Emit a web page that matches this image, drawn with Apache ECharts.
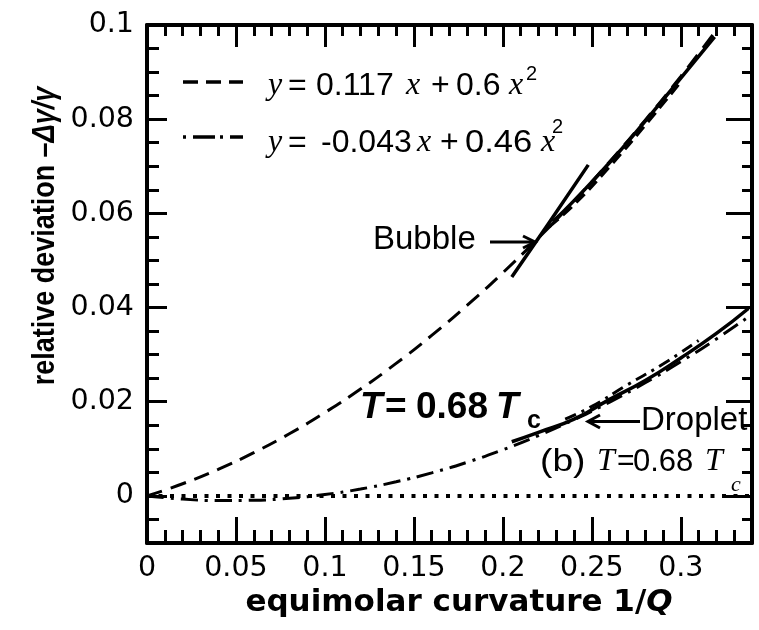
<!DOCTYPE html>
<html>
<head>
<meta charset="utf-8">
<script src="https://cdn.jsdelivr.net/npm/echarts@6/dist/echarts.min.js"></script>
<style>
  html, body { margin: 0; padding: 0; background: #ffffff; }
  #chart { width: 759px; height: 630px; }
</style>
</head>
<body>
<div id="chart"></div>
<script>
// Fitted curve y = 0.117 x + 0.6 x^2 (bubble)
const fitBubbleX = [0, 0.02, 0.04, 0.06, 0.08, 0.10, 0.12, 0.14, 0.16, 0.18, 0.20, 0.22, 0.24, 0.26, 0.28, 0.30, 0.318];
const fitBubbleY = [0, 0.00258, 0.00564, 0.00918, 0.0132, 0.0177, 0.02268, 0.02814, 0.03408, 0.0405, 0.0474, 0.05478, 0.06264, 0.07098, 0.0798, 0.0891, 0.0979];

// Fitted curve y = -0.043 x + 0.46 x^2 (droplet)
const fitDropletX = [0, 0.02, 0.04, 0.06, 0.08, 0.10, 0.12, 0.14, 0.16, 0.18, 0.20, 0.22, 0.24, 0.26, 0.28, 0.30, 0.32, 0.34];
const fitDropletY = [0, -0.00068, -0.00098, -0.00092, -0.0005, 0.0003, 0.00146, 0.003, 0.0049, 0.00716, 0.0098, 0.0128, 0.01618, 0.01992, 0.02402, 0.0285, 0.03334, 0.03856];

// Simulated bubble data
const bubbleSteepX = [0.205, 0.225, 0.248];
const bubbleSteepY = [0.0465, 0.0575, 0.0703];
const bubbleMainX = [0.228, 0.24, 0.26, 0.28, 0.30, 0.319];
const bubbleMainY = [0.0582, 0.0627, 0.0708, 0.0796, 0.0887, 0.0975];
const bubbleAltX = [0.226, 0.24, 0.26, 0.28, 0.30];
const bubbleAltY = [0.0572, 0.0619, 0.0700, 0.0788, 0.0880];

// Simulated droplet data
const dropletMainX = [0.205, 0.22, 0.24, 0.26, 0.28, 0.30, 0.32, 0.338];
const dropletMainY = [0.0115, 0.0135, 0.0163, 0.0205, 0.0245, 0.0293, 0.0345, 0.0398];
const dropletAltX = [0.235, 0.25, 0.27, 0.29, 0.31];
const dropletAltY = [0.0163, 0.0190, 0.0236, 0.0280, 0.0330];

// Reference level
const zeroX = [0, 0.34];
const zeroY = [0, 0];

// Axis ranges and tick steps
const xRange = [0, 0.34];
const yRange = [-0.01, 0.1];
const xStep = 0.05;

const pairs = (xs, ys) => xs.map((x, i) => [x, ys[i]]);

const BLACK = '#000000';
const SANS = 'Liberation Sans, Arial, sans-serif';
const SERIF = 'Liberation Serif, Times New Roman, serif';
const TICKFONT = 'DejaVu Sans, sans-serif';

function lineSeries(name, xs, ys, width, type, smooth) {
  return {
    name: name,
    type: 'line',
    data: pairs(xs, ys),
    smooth: smooth,
    symbol: 'none',
    showSymbol: false,
    silent: true,
    lineStyle: { color: BLACK, width: width, type: type, cap: 'butt' },
    z: 5
  };
}

function xAxisDef(pos, tickLen, minorLen, showLabel) {
  return {
    type: 'value', position: pos, min: xRange[0], max: xRange[1], interval: xStep,
    axisLine: { show: true, onZero: false, lineStyle: { color: BLACK, width: 4 } },
    axisTick: { show: true, inside: true, length: tickLen, lineStyle: { color: BLACK, width: 3 } },
    minorTick: { show: true, splitNumber: 5, length: minorLen, lineStyle: { color: BLACK, width: 3 } },
    splitLine: { show: false },
    axisLabel: {
      show: showLabel, color: BLACK, fontFamily: TICKFONT, fontSize: 28.5, margin: 11,
      showMaxLabel: false
    }
  };
}

function yAxisDef(pos, tickLen, minorLen, showLabel) {
  return {
    type: 'value', position: pos, min: yRange[0], max: yRange[1],
    axisLine: { show: true, onZero: false, lineStyle: { color: BLACK, width: 4 } },
    axisTick: { show: true, inside: true, length: tickLen, lineStyle: { color: BLACK, width: 3 } },
    minorTick: { show: true, splitNumber: 4, length: minorLen, lineStyle: { color: BLACK, width: 3 } },
    splitLine: { show: false },
    axisLabel: {
      show: showLabel, color: BLACK, fontFamily: TICKFONT, fontSize: 28.5, margin: 13,
      showMinLabel: false
    }
  };
}

function txt(x, y, text, font, size, opts) {
  const o = opts || {};
  return {
    type: 'text', x: x, y: y, z: 20, silent: true,
    scaleX: o.scaleX || 1,
    style: {
      text: text, fill: BLACK, fontFamily: font, fontSize: size,
      fontWeight: o.bold ? 'bold' : 'normal', fontStyle: o.italic ? 'italic' : 'normal',
      align: 'left', verticalAlign: 'middle'
    }
  };
}

const ls = { stroke: BLACK, lineWidth: 3, fill: null };

const graphics = [
  // legend samples
  { type: 'line', z: 20, silent: true, shape: { x1: 183, y1: 82, x2: 243, y2: 82 }, style: { stroke: BLACK, lineWidth: 3.5, lineDash: [15, 8] } },
  { type: 'line', z: 20, silent: true, shape: { x1: 183, y1: 137, x2: 243, y2: 137 }, style: { stroke: BLACK, lineWidth: 3.5, lineDash: [3, 7, 22, 5] } },
  // legend row 1: y = 0.117 x + 0.6 x^2
  txt(268, 86, 'y', SERIF, 32, { italic: true }),
  txt(288, 86, '=', SANS, 32),
  txt(316, 86, '0.117', SANS, 32),
  txt(406, 86, 'x', SERIF, 32, { italic: true }),
  txt(431, 86, '+', SANS, 32),
  txt(456, 86, '0.6', SANS, 32),
  txt(509, 86, 'x', SERIF, 32, { italic: true }),
  txt(526, 74, '2', SANS, 20),
  // legend row 2: y = -0.043 x + 0.46 x^2
  txt(268, 143, 'y', SERIF, 32, { italic: true }),
  txt(288, 143, '=', SANS, 32),
  txt(321, 143, '-0.043', SANS, 32),
  txt(417, 143, 'x', SERIF, 32, { italic: true }),
  txt(440, 143, '+', SANS, 32),
  txt(465, 143, '0.46', SANS, 32, { scaleX: 1.08 }),
  txt(541, 143, 'x', SERIF, 32, { italic: true }),
  txt(552, 127, '2', SANS, 20),
  // annotations
  txt(373, 240, 'Bubble', SANS, 33),
  txt(641, 421, 'Droplet', SANS, 33),
  { type: 'line', z: 20, silent: true, shape: { x1: 490, y1: 242, x2: 534, y2: 242 }, style: ls },
  { type: 'polyline', z: 20, silent: true, shape: { points: [[523, 236], [535, 242], [523, 248]] }, style: ls },
  { type: 'line', z: 20, silent: true, shape: { x1: 640, y1: 421.5, x2: 589, y2: 421.5 }, style: ls },
  { type: 'polyline', z: 20, silent: true, shape: { points: [[600, 415], [588, 421.5], [600, 428]] }, style: ls },
  // bold temperature label
  txt(360, 407.5, 'T', SANS, 37, { bold: true, italic: true }),
  txt(385, 407.5, '=', SANS, 37, { bold: true }),
  txt(416, 407.5, '0.68', SANS, 37, { bold: true }),
  txt(496, 407.5, 'T', SANS, 37, { bold: true, italic: true }),
  txt(527, 421, 'c', SANS, 25, { bold: true }),
  // panel label (b) T=0.68 Tc
  txt(540, 462, '(b)', SANS, 31, { scaleX: 1.2 }),
  txt(597, 462, 'T', SERIF, 32, { italic: true }),
  txt(617, 462, '=', SANS, 30),
  txt(633, 462, '0.68', SANS, 31),
  txt(705, 462, 'T', SERIF, 32, { italic: true }),
  txt(731, 485, 'c', SERIF, 22, { italic: true }),
  // axis titles
  {
    type: 'text', x: 45, y: 236, rotation: Math.PI / 2, scaleX: 0.87, z: 20, silent: true,
    style: {
      text: '{n|relative deviation \u2013}{i|\u0394\u03b3/\u03b3}',
      align: 'center', verticalAlign: 'middle', fill: BLACK,
      rich: {
        n: { fontFamily: SANS, fontSize: 31, fontWeight: 'bold', fill: BLACK },
        i: { fontFamily: SANS, fontSize: 31, fontWeight: 'bold', fontStyle: 'italic', fill: BLACK }
      }
    }
  },
  {
    type: 'text', x: 459, y: 603, z: 20, silent: true,
    style: {
      text: '{n|equimolar curvature 1/}{i|Q}',
      align: 'center', verticalAlign: 'middle', fill: BLACK,
      rich: {
        n: { fontFamily: 'DejaVu Sans, sans-serif', fontSize: 31, fontWeight: 'bold', fill: BLACK },
        i: { fontFamily: 'DejaVu Sans, sans-serif', fontSize: 31, fontWeight: 'bold', fontStyle: 'italic', fill: BLACK }
      }
    }
  }
];

const chart = echarts.init(document.getElementById('chart'), null, { renderer: 'canvas' });
chart.setOption({
  animation: false,
  backgroundColor: '#ffffff',
  grid: { left: 147, right: 7, top: 25, bottom: 87, containLabel: false },
  xAxis: [
    xAxisDef('bottom', 26, 13, true),
    xAxisDef('top', 22, 11, false)
  ],
  yAxis: [
    yAxisDef('left', 20, 12, true),
    yAxisDef('right', 26, 10, false)
  ],
  series: [
    lineSeries('zero', zeroX, zeroY, 4, [4, 7.5], false),
    lineSeries('fitBubble', fitBubbleX, fitBubbleY, 3, [16, 9], true),
    lineSeries('fitDroplet', fitDropletX, fitDropletY, 3, [17, 7, 3, 7], true),
    lineSeries('bubbleSteep', bubbleSteepX, bubbleSteepY, 3.5, 'solid', true),
    lineSeries('bubbleMain', bubbleMainX, bubbleMainY, 3.5, 'solid', true),
    lineSeries('bubbleAlt', bubbleAltX, bubbleAltY, 3.5, [12, 6], true),
    lineSeries('dropletMain', dropletMainX, dropletMainY, 3.5, 'solid', true),
    lineSeries('dropletAlt', dropletAltX, dropletAltY, 3, [12, 6, 3, 6], true)
  ],
  graphic: graphics
});
</script>
</body>
</html>
